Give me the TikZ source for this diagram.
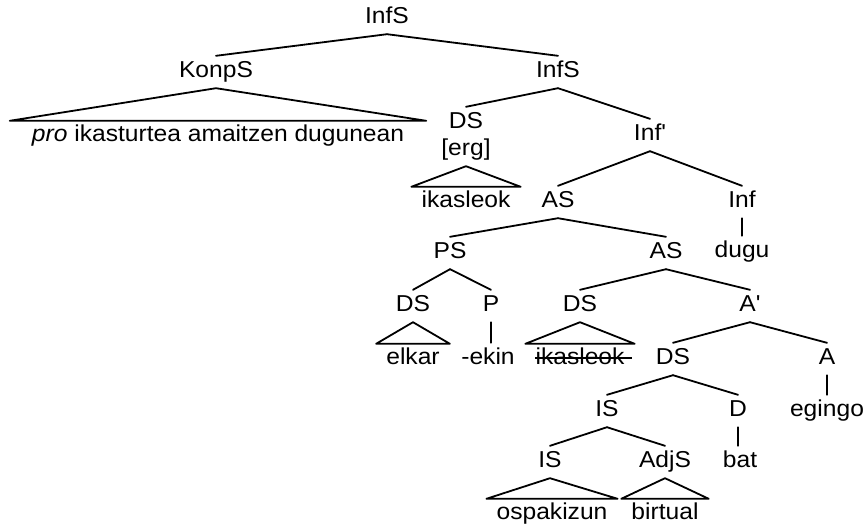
\documentclass[tikz,border=0pt]{standalone}
\usepackage{fontspec}
\newfontfamily\arialfont{Liberation Sans}[FakeStretch=1.07]
\begin{document}
\begin{tikzpicture}[x=1pt,y=1pt,
  lab/.style={font=\arialfont\fontsize{23}{27}\selectfont, anchor=base, inner xsep=0pt, inner ysep=6pt, text height=15pt, text depth=5pt},
  br/.style={line width=1.8pt, line cap=round, line join=round}]
\useasboundingbox (0,0) rectangle (868,-528);
\node[lab] (t0) at (387,-23) {InfS};
\node[lab] (konp) at (216,-77) {KonpS};
\node[lab] (pro) at (218,-141) {\textit{pro} ikasturtea amaitzen dugunean};
\node[lab] (infs2) at (558,-77) {InfS};
\node[lab] (ds1) at (466,-128) {DS};
\node[lab] (erg) at (466,-155) {[erg]};
\node[lab] (ik1) at (466,-207) {ikasleok};
\node[lab] (infb) at (650,-140) {Inf'};
\node[lab] (as1) at (558,-207) {AS};
\node[lab] (inf) at (742,-207) {Inf};
\node[lab] (dugu) at (742,-257) {dugu};
\node[lab] (ps) at (450,-258) {PS};
\node[lab] (as2) at (666,-258) {AS};
\node[lab] (dsa) at (413,-311) {DS};
\node[lab] (p) at (491,-311) {P};
\node[lab] (elkar) at (413,-364) {elkar};
\node[lab] (ekin) at (488,-364) {-ekin};
\node[lab] (ds2) at (580,-311) {DS};
\node[lab] (ab) at (750,-311) {A'};
\node[lab] (ik2) at (580,-364) {ikasleok};
\node[lab] (ds3) at (673,-364) {DS};
\node[lab] (a) at (827,-364) {A};
\node[lab] (egingo) at (827,-416) {egingo};
\node[lab] (is1) at (607,-416) {IS};
\node[lab] (d) at (738,-416) {D};
\node[lab] (bat) at (740,-467) {bat};
\node[lab] (is2) at (550,-467) {IS};
\node[lab] (adj) at (665,-467) {AdjS};
\node[lab] (osp) at (552,-519) {ospakizun};
\node[lab] (birt) at (665,-519) {birtual};
% branches
\foreach \u/\v in {t0/konp, t0/infs2, infs2/ds1, infs2/infb, infb/as1, infb/inf,
  as1/ps, as1/as2, ps/dsa, ps/p, as2/ds2, as2/ab, ab/ds3, ab/a,
  ds3/is1, ds3/d, is1/is2, is1/adj}
  \draw[br] (\u.south) -- (\v.north);
% unary (vertical) branches
\foreach \u/\v in {inf/dugu, p/ekin, a/egingo, d/bat}
  \draw[br] (\u.south) -- (\u.south |- \v.north);
% triangles
\draw[br] (konp.south) -- ([xshift=-22pt,yshift=-1pt]pro.north west) -- ([xshift=22pt,yshift=-1pt]pro.north east) -- cycle;
\foreach \u/\v in {erg/ik1, dsa/elkar, ds2/ik2, is2/osp, adj/birt}
  \draw[br] (\u.south) -- ([xshift=-10pt,yshift=-1pt]\v.north west) -- ([xshift=10pt,yshift=-1pt]\v.north east) -- cycle;
% strike-through
\draw[line width=1.4pt] ([yshift=6pt]ik2.base west) -- ([xshift=7pt,yshift=6pt]ik2.base east);
\end{tikzpicture}
\end{document}
